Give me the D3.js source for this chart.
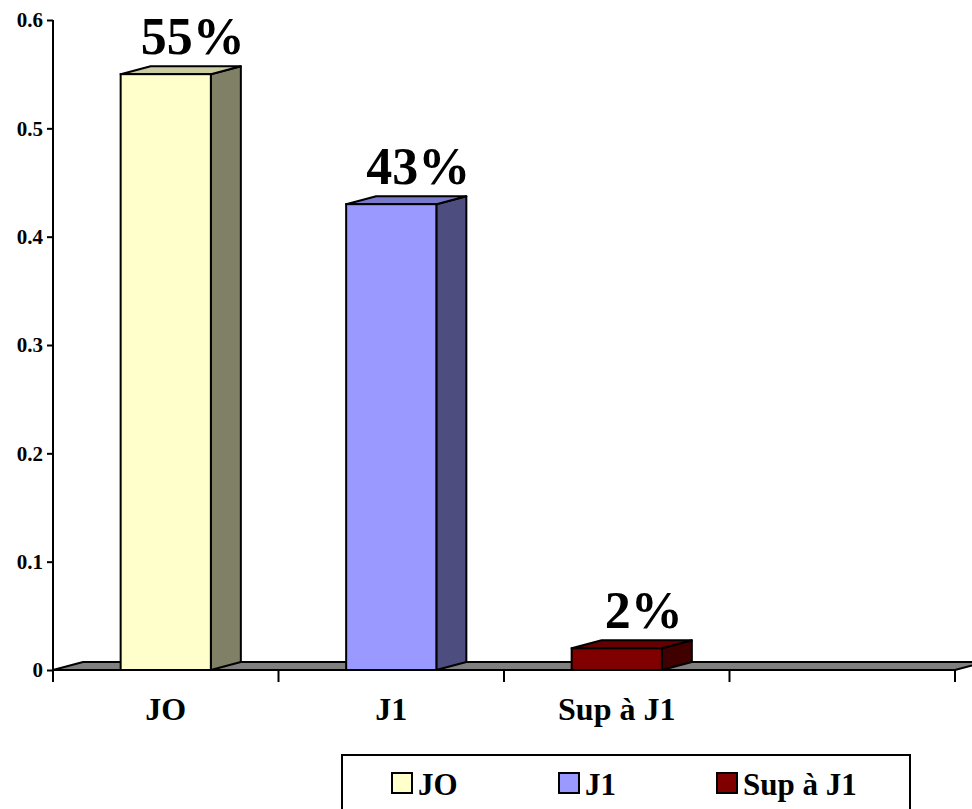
<!DOCTYPE html>
<html>
<head>
<meta charset="utf-8">
<script src="https://cdn.jsdelivr.net/npm/d3@7"></script>
<style>
  body { margin: 0; background: #fff; }
  text { font-family: "Liberation Serif", "Times New Roman", serif; font-weight: bold; }
</style>
</head>
<body>
<svg id="chart" width="972" height="809"></svg>
<script>
// data
var categories = ['JO', 'J1', 'Sup à J1'];
var values = [0.55, 0.43, 0.02];
var valueLabels = ['55%', '43%', '2%'];
var yTicks = [0, 0.1, 0.2, 0.3, 0.4, 0.5, 0.6];
var fronts = ['#FFFFCC', '#9999FF', '#800000'];
var sides = ['#808066', '#4D4D80', '#400000'];
var tops = ['#CCCCA3', '#7A7ACC', '#660000'];

var svg = d3.select('#chart');
// note: "top" is taken by window.top, so use other names
var plotL = 53, plotR = 955, plotT = 20, plotB = 670;
var dx = 30, dy = -8;   // depth of the 3d look

var y = d3.scaleLinear().domain([0, 0.6]).range([plotB, plotT]);
// 4 slots, the last one is empty
var x = d3.scaleBand().domain(categories.concat([' '])).range([plotL, plotR]);
var barW = x.step() * 0.4;

// floor
svg.append('polygon')
   .attr('points', [[plotL, plotB], [plotL + dx, plotB + dy], [plotR + dx, plotB + dy], [plotR, plotB]].join(' '))
   .attr('fill', '#808080')
   .attr('stroke', '#000')
   .attr('stroke-width', 2);

var bars = svg.selectAll('g.bar')
   .data(values)
   .enter()
   .append('g')
   .attr('class', 'bar');

function x0(d, i){ return x(categories[i]) + (x.step() - barW) / 2; }

// side
bars.append('polygon')
   .attr('points', function(d, i){
      var a = x0(d, i) + barW;
      return [[a, y(d)], [a + dx, y(d) + dy], [a + dx, y(0) + dy], [a, y(0)]].join(' ');
   })
   .attr('fill', function(d, i){ return sides[i]; })
   .attr('stroke', '#000').attr('stroke-width', 2).attr('stroke-linejoin', 'round');

// top
bars.append('polygon')
   .attr('points', function(d, i){
      var a = x0(d, i), b = a + barW;
      return [[a, y(d)], [a + dx, y(d) + dy], [b + dx, y(d) + dy], [b, y(d)]].join(' ');
   })
   .attr('fill', function(d, i){ return tops[i]; })
   .attr('stroke', '#000').attr('stroke-width', 2).attr('stroke-linejoin', 'round');

// front
bars.append('rect')
   .attr('x', x0)
   .attr('y', function(d){ return y(d); })
   .attr('width', barW)
   .attr('height', function(d){ return y(0) - y(d); })
   .attr('fill', function(d, i){ return fronts[i]; })
   .attr('stroke', '#000').attr('stroke-width', 2);

// value labels
bars.append('text')
   .attr('x', function(d, i){ return x0(d, i) + barW / 2 + 27; })
   .attr('y', function(d){ return y(d) + dy - 12; })
   .attr('text-anchor', 'middle')
   .attr('font-size', 52)
   .text(function(d, i){ return valueLabels[i]; });

// y axis
var yAxis = svg.append('g')
   .attr('transform', 'translate(' + plotL + ',0)')
   .call(d3.axisLeft(y).tickValues(yTicks).tickSize(6).tickPadding(4)
      .tickFormat(function(d){ return d === 0 ? '0' : d3.format('.1f')(d); }));
yAxis.attr('font-size', 21).attr('font-family', null);
yAxis.select('.domain').attr('d', 'M0,' + plotT + 'V' + plotB).attr('stroke', '#000').attr('stroke-width', 2);
yAxis.selectAll('.tick line').attr('stroke', '#000').attr('stroke-width', 2);
yAxis.selectAll('.tick text')
   .style('font-size', '21px')
   .attr('fill', '#000');

// x axis line + ticks at slot borders
svg.append('line')
   .attr('x1', plotL).attr('x2', plotR)
   .attr('y1', plotB).attr('y2', plotB)
   .attr('stroke', '#000').attr('stroke-width', 2);
svg.selectAll('line.xtick')
   .data(d3.range(x.domain().length + 1))
   .enter()
   .append('line')
   .attr('class', 'xtick')
   .attr('x1', function(i){ return plotL + i * x.step(); })
   .attr('x2', function(i){ return plotL + i * x.step(); })
   .attr('y1', plotB).attr('y2', plotB + 12)
   .attr('stroke', '#000').attr('stroke-width', 2);

svg.selectAll('text.cat')
   .data(categories)
   .enter()
   .append('text')
   .attr('class', 'cat')
   .attr('x', function(d){ return x(d) + x.step() / 2; })
   .attr('y', 720)
   .attr('text-anchor', 'middle')
   .attr('font-size', 32)
   .text(function(d){ return d; });

// legend
var legend = svg.append('g');
legend.append('rect')
   .attr('x', 342).attr('y', 755)
   .attr('width', 568).attr('height', 70)
   .attr('fill', '#fff')
   .attr('stroke', '#000').attr('stroke-width', 2);
var legX = [392, 559, 717];
var items = legend.selectAll('g.item')
   .data(categories)
   .enter()
   .append('g')
   .attr('class', 'item')
   .attr('transform', function(d, i){ return 'translate(' + legX[i] + ',773)'; });
items.append('rect')
   .attr('width', 20).attr('height', 20)
   .attr('fill', function(d, i){ return fronts[i]; })
   .attr('stroke', '#000').attr('stroke-width', 2);
items.append('text')
   .attr('x', 26).attr('y', 22)
   .attr('font-size', 31)
   .text(function(d){ return d; });
</script>
</body>
</html>
